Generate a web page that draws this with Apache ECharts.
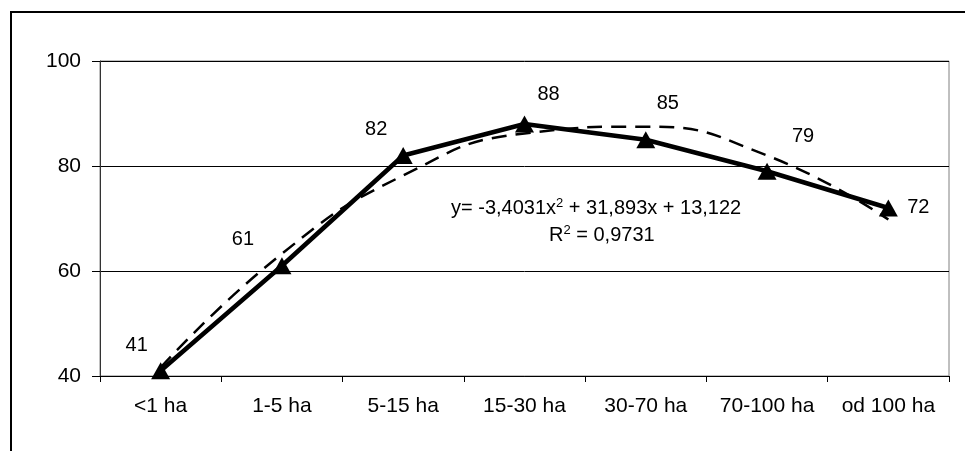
<!DOCTYPE html>
<html><head><meta charset="utf-8">
<script src="https://cdn.jsdelivr.net/npm/echarts@6/dist/echarts.min.js"></script>
<style>html,body{margin:0;padding:0;background:#fff}#c{width:965px;height:451px}</style>
</head><body><div id="c"></div>
<script>
const categories = ['<1 ha','1-5 ha','5-15 ha','15-30 ha','30-70 ha','70-100 ha','od 100 ha'];
const values = [41, 61, 82, 88, 85, 79, 72];
const trend = [41.6, 63.3, 78.2, 86.2, 87.5, 82.0, 69.8];
const yTicks = [40, 60, 80, 100];
const labelOffsets = [[-24,-25],[-39,-26],[-27,-26],[24,-30],[22,-36],[36,-35],[30,-1]];
const F = 'Liberation Sans, Arial, sans-serif';
const chart = echarts.init(document.getElementById('c'), null, {renderer:'canvas'});
chart.setOption({
  animation:false,
  grid:{left:100, top:61, right:16, bottom:75, show:true, borderColor:'#808080', borderWidth:1, backgroundColor:'#fff'},
  xAxis:{type:'category', data:categories, boundaryGap:true,
    axisLine:{lineStyle:{color:'#000', width:1}},
    axisTick:{show:true, interval:0, length:6, lineStyle:{color:'#000'}},
    axisLabel:{interval:0, color:'#000', fontFamily:F, fontSize:21, margin:20}},
  yAxis:{type:'value', min:yTicks[0], max:yTicks[yTicks.length-1], interval:20,
    axisLine:{show:true, lineStyle:{color:'#333', width:1}},
    axisTick:{show:true, length:8, lineStyle:{color:'#000'}},
    axisLabel:{color:'#000', fontFamily:F, fontSize:21, margin:19},
    splitLine:{show:true, lineStyle:{color:'#000', width:1}}},
  series:[
    {type:'line', data:trend, smooth:0.5, symbol:'none', z:2,
      lineStyle:{color:'#000', width:2.5, type:[15,9]}},
    {type:'line', data:values.map((v,i)=>({value:v, label:{offset:labelOffsets[i]}})), symbol:'triangle', symbolSize:[19,17], z:3,
      itemStyle:{color:'#000'}, lineStyle:{color:'#000', width:4.5},
      label:{show:true, position:'inside', color:'#000', fontFamily:F, fontSize:20}}
  ],
  graphic:[
    {type:'rect', shape:{x:11, y:12, width:1200, height:1000}, style:{fill:'none', stroke:'#000', lineWidth:2}, z:100},
    {type:'text', left:451, top:197, style:{text:'y= -3,4031x{s|2} + 31,893x + 13,122', fontFamily:F, fontSize:20, fill:'#000',
      rich:{s:{fontSize:13, verticalAlign:'top', padding:[0,0,10,0], fontFamily:F}}}, z:50},
    {type:'text', left:549, top:224, style:{text:'R{s|2} = 0,9731', fontFamily:F, fontSize:20, fill:'#000',
      rich:{s:{fontSize:13, verticalAlign:'top', padding:[0,0,10,0], fontFamily:F}}}, z:50}
  ]
});
</script></body></html>
